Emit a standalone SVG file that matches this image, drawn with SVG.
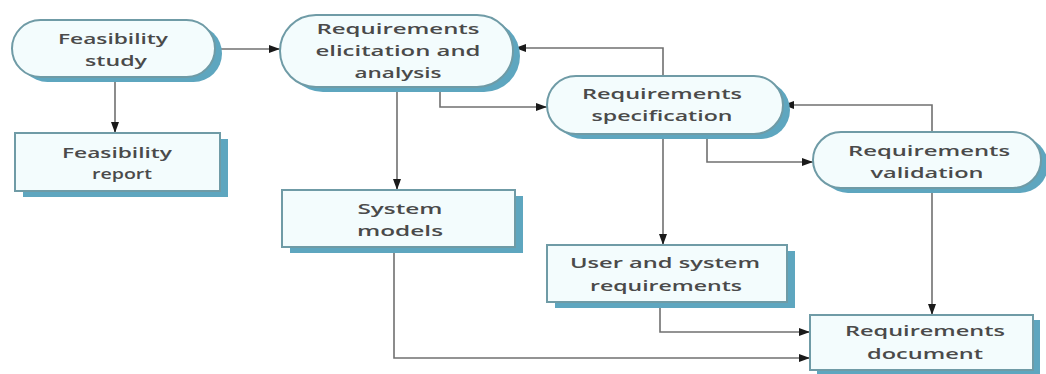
<svg xmlns="http://www.w3.org/2000/svg" width="1046" height="374" viewBox="0 0 1046 374">
  <defs>
    <marker id="arrow" markerUnits="userSpaceOnUse" markerWidth="12" markerHeight="10" refX="11" refY="5" orient="auto">
      <path d="M0,1 L11,5 L0,9 Z" fill="#1a1a1a"/>
    </marker>
    <style>
      .shadow { fill: #5ea6bf; }
      .box { fill: #f3fcfd; stroke: #6f9ba6; stroke-width: 2; }
      .label { font-family: "Open Sans", "Liberation Sans", sans-serif; font-weight: 600; font-size: 15px; fill: #4a4a4a; text-anchor: middle; dominant-baseline: central; }
      .conn { fill: none; stroke: #707070; stroke-width: 1.6; marker-end: url(#arrow); }
    </style>
  </defs>
  <rect width="1046" height="374" fill="#ffffff"/>

  <g id="connectors">
    <path class="conn" d="M215,49 H280"/>
    <path class="conn" d="M115,77 V133"/>
    <path class="conn" d="M663,76 V48 H515"/>
    <path class="conn" d="M440,87 V107 H547"/>
    <path class="conn" d="M397,87 V190"/>
    <path class="conn" d="M663,134 V245"/>
    <path class="conn" d="M707,134 V162 H813"/>
    <path class="conn" d="M932,132 V105 H783"/>
    <path class="conn" d="M932,188 V315"/>
    <path class="conn" d="M660,302 V332 H810"/>
    <path class="conn" d="M394,247 V358 H810"/>
  </g>

  <g id="feasibility-study">
    <rect class="shadow" x="19" y="25" width="203" height="57" rx="28.5"/>
    <rect class="box" x="12" y="20" width="203" height="57" rx="28.5"/>
    <text class="label" x="113" y="38" textLength="110" lengthAdjust="spacingAndGlyphs">Feasibility</text>
    <text class="label" x="116" y="60" textLength="62" lengthAdjust="spacingAndGlyphs">study</text>
  </g>

  <g id="feasibility-report">
    <rect class="shadow" x="23" y="139" width="205" height="58"/>
    <rect class="box" x="15" y="133" width="205" height="58"/>
    <text class="label" x="117" y="152" textLength="110" lengthAdjust="spacingAndGlyphs">Feasibility</text>
    <text class="label" x="122" y="173" textLength="60" lengthAdjust="spacingAndGlyphs">report</text>
  </g>

  <g id="elicitation">
    <rect class="shadow" x="287" y="20" width="233" height="72" rx="36"/>
    <rect class="box" x="280" y="15" width="233" height="72" rx="36"/>
    <text class="label" x="398" y="28" textLength="163" lengthAdjust="spacingAndGlyphs">Requirements</text>
    <text class="label" x="398" y="50" textLength="165" lengthAdjust="spacingAndGlyphs">elicitation and</text>
    <text class="label" x="398" y="72" textLength="87" lengthAdjust="spacingAndGlyphs">analysis</text>
  </g>

  <g id="specification">
    <rect class="shadow" x="554" y="81" width="236" height="58" rx="29"/>
    <rect class="box" x="547" y="76" width="236" height="58" rx="29"/>
    <text class="label" x="662" y="93" textLength="160" lengthAdjust="spacingAndGlyphs">Requirements</text>
    <text class="label" x="662" y="115" textLength="141" lengthAdjust="spacingAndGlyphs">specification</text>
  </g>

  <g id="validation">
    <rect class="shadow" x="820" y="137" width="228" height="56" rx="28"/>
    <rect class="box" x="813" y="132" width="228" height="56" rx="28"/>
    <text class="label" x="929" y="150" textLength="162" lengthAdjust="spacingAndGlyphs">Requirements</text>
    <text class="label" x="927" y="172" textLength="113" lengthAdjust="spacingAndGlyphs">validation</text>
  </g>

  <g id="system-models">
    <rect class="shadow" x="290" y="196" width="233" height="57"/>
    <rect class="box" x="282" y="190" width="233" height="57"/>
    <text class="label" x="400" y="208" textLength="85" lengthAdjust="spacingAndGlyphs">System</text>
    <text class="label" x="400" y="230" textLength="86" lengthAdjust="spacingAndGlyphs">models</text>
  </g>

  <g id="user-system-requirements">
    <rect class="shadow" x="555" y="251" width="240" height="57"/>
    <rect class="box" x="547" y="245" width="240" height="57"/>
    <text class="label" x="665" y="262" textLength="190" lengthAdjust="spacingAndGlyphs">User and system</text>
    <text class="label" x="666" y="285" textLength="152" lengthAdjust="spacingAndGlyphs">requirements</text>
  </g>

  <g id="requirements-document">
    <rect class="shadow" x="817" y="320" width="223" height="55"/>
    <rect class="box" x="810" y="315" width="223" height="55"/>
    <text class="label" x="925" y="330" textLength="160" lengthAdjust="spacingAndGlyphs">Requirements</text>
    <text class="label" x="925" y="353" textLength="116" lengthAdjust="spacingAndGlyphs">document</text>
  </g>
</svg>
